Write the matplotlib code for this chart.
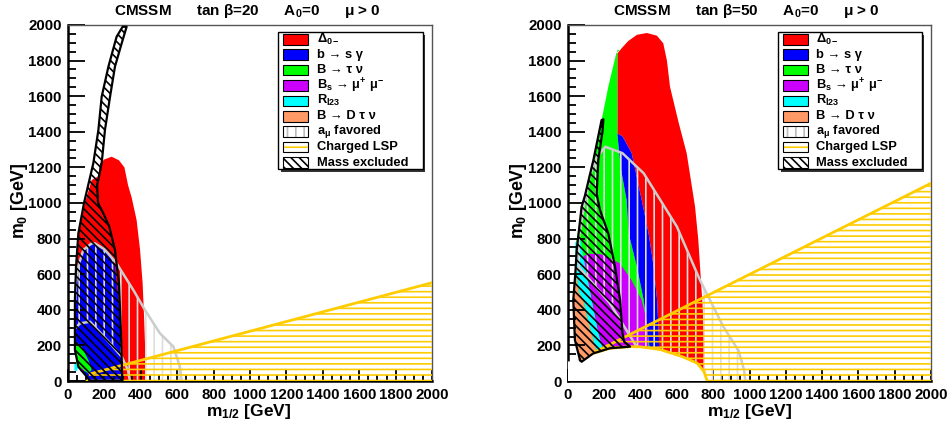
import matplotlib
matplotlib.use("Agg")
import matplotlib.pyplot as plt
from matplotlib.patches import Polygon, Rectangle
from matplotlib.ticker import MultipleLocator
import numpy as np

plt.rcParams['font.family'] = ['Liberation Sans', 'DejaVu Sans']
plt.rcParams['font.weight'] = 'bold'
plt.rcParams['mathtext.fontset'] = 'custom'
plt.rcParams['mathtext.rm'] = 'Liberation Sans:bold'
plt.rcParams['mathtext.it'] = 'Liberation Sans:bold:italic'
plt.rcParams['mathtext.bf'] = 'Liberation Sans:bold'
plt.rcParams['mathtext.default'] = 'rm'
plt.rcParams['hatch.linewidth'] = 1.2

# ---- tan(beta) = 20 : excluded regions in (m1/2, m0) [GeV] ----
tb20_delta0 = [(121, 0), (427, 0), (425, 150), (418, 361), (410, 550), (396, 736), (377, 904),
               (350, 1030), (330, 1100), (310, 1200), (280, 1240), (240, 1260), (200, 1245),
               (176, 1223), (167, 1150), (130, 1129), (93, 1000), (57, 830), (44, 642),
               (38, 455), (38, 174), (57, 80), (103, 24)]
tb20_bsgamma = [(38, 250), (38, 455), (44, 580), (60, 680), (84, 736), (130, 773), (160, 770),
                (200, 745), (240, 700), (258, 642), (277, 455), (290, 268), (295, 174),
                (300, 0), (121, 0), (103, 24), (57, 80), (38, 174)]
tb20_btaunu = [(44, 221), (75, 193), (112, 118), (130, 62), (112, 43), (66, 71), (44, 100)]
tb20_bsmumu = [(68, 55), (85, 47), (88, 62), (75, 71)]
tb20_rl23 = [(35, 60), (50, 55), (55, 80), (45, 105), (35, 100)]
tb20_amu_outer = [(625, 0), (615, 80), (579, 193), (505, 268), (423, 399), (359, 511),
                  (267, 661), (200, 740), (148, 773), (130, 773), (84, 736), (55, 640),
                  (44, 550), (40, 450)]
tb20_amu_inner = [(40, 298), (66, 324), (121, 333), (231, 212), (295, 137), (330, 60), (340, 0)]
tb20_lsp_edge = [(121, 40), (2000, 552)]
tb20_mass = [(121, 0), (300, 0), (298, 5), (291, 268), (280, 549), (258, 736), (227, 867),
             (194, 942), (165, 1000), (160, 1100), (185, 1223), (203, 1410), (231, 1597),
             (258, 1766), (290, 1880), (322, 1990), (300, 1990), (267, 1934), (222, 1766),
             (185, 1597), (167, 1410), (139, 1223), (88, 1000), (57, 830), (44, 642),
             (38, 455), (38, 174), (57, 80), (103, 24)]

# ---- tan(beta) = 50 ----
tb50_delta0 = [(272, 1390), (272, 1840), (296, 1870), (332, 1910), (380, 1945), (435, 1955),
               (490, 1940), (525, 1897), (545, 1800), (562, 1653), (610, 1450), (654, 1279),
               (700, 979), (718, 792), (742, 417), (755, 80), (757, 0), (500, 0), (500, 268),
               (491, 455), (472, 642), (444, 830), (406, 1017), (351, 1280), (300, 1375)]
tb50_bsgamma = [(272, 1390), (300, 1375), (351, 1280), (406, 1017), (444, 830), (472, 642),
                (491, 455), (500, 268), (505, 150), (454, 150), (417, 455), (380, 640),
                (334, 830), (323, 1017), (290, 1200)]
tb50_btaunu = [(40, 650), (42, 760), (60, 870), (93, 1017), (140, 1242), (185, 1466),
               (222, 1653), (266, 1841), (285, 1860), (272, 1860), (272, 1390), (290, 1200),
               (323, 1017), (334, 830), (380, 640), (417, 455), (454, 150), (300, 150),
               (100, 100), (35, 300)]
tb50_bsmumu = [(84, 700), (110, 715), (178, 713), (230, 690), (286, 661), (350, 567),
               (406, 455), (433, 343), (442, 230), (442, 150), (195, 150), (167, 268),
               (130, 455), (110, 560)]
tb50_rl23 = [(40, 780), (70, 790), (84, 700), (110, 560), (130, 455), (167, 268), (195, 170),
             (160, 160), (150, 190), (130, 268), (110, 340), (84, 455), (60, 500), (45, 600)]
tb50_bdtaunu = [(45, 600), (60, 500), (84, 455), (110, 340), (130, 268), (150, 190),
                (160, 160), (66, 110), (35, 250), (28, 450), (35, 560)]
tb50_amu_outer = [(977, 0), (970, 62), (940, 170), (856, 305), (727, 567), (600, 867),
                  (417, 1167), (300, 1280), (206, 1316), (160, 1260), (120, 1150), (90, 1000),
                  (60, 800), (45, 650)]
tb50_amu_inner = [(45, 620), (60, 640), (105, 586), (231, 436), (378, 193), (450, 100), (480, 0)]
tb50_lsp_edge = [(139, 158), (2000, 1111)]
tb50_noewsb_edge = [(66, 110), (139, 155), (231, 184), (342, 193), (400, 192), (510, 176),
                    (629, 137), (712, 100), (749, 53), (767, 0)]
tb50_mass = [(66, 118), (38, 230), (29, 455), (40, 600), (48, 736), (75, 979), (93, 1040),
             (140, 1242), (185, 1466), (195, 1470), (190, 1400), (167, 1242), (158, 1050),
             (176, 961), (222, 829), (259, 642), (287, 455), (300, 268), (310, 220),
             (342, 193), (231, 184), (139, 155), (75, 108)]

legend_labels = [r'$\Delta_{0-}$', 'b → s γ', 'B → τ ν', r'B$_s$ → μ$^{+}$ μ$^{-}$',
                 r'R$_{l23}$', 'B → D τ ν', r'a$_{μ}$ favored', 'Charged LSP', 'Mass excluded']

RED, BLUE, GREEN, PURPLE, CYAN, ORANGE = '#ff0000', '#0000ff', '#00ff00', '#cc00ff', '#00ffff', '#ff9966'
GOLD, AMU_GREY = '#ffcc00', '#cccccc'


def fill(ax, pts, color, z):
    ax.add_patch(Polygon(np.array(pts, float), closed=True, facecolor=color,
                         edgecolor='none', lw=0, zorder=z))


def hatch(ax, pts, color, pattern, z):
    ax.add_patch(Polygon(np.array(pts, float), closed=True, facecolor='none',
                         edgecolor=color, lw=0, hatch=pattern, zorder=z))


def line(ax, pts, color, lw, z, closed=False):
    xy = np.array(pts, float)
    if closed:
        xy = np.vstack([xy, xy[:1]])
    ax.plot(xy[:, 0], xy[:, 1], color=color, lw=lw, zorder=z, solid_joinstyle='round')


def frame(ax):
    ax.set_xlim(0, 2000)
    ax.set_ylim(0, 2000)
    ax.xaxis.set_major_locator(MultipleLocator(200))
    ax.yaxis.set_major_locator(MultipleLocator(200))
    ax.xaxis.set_minor_locator(MultipleLocator(50))
    ax.yaxis.set_minor_locator(MultipleLocator(50))
    ax.tick_params(axis='both', which='both', direction='in', top=False, right=False,
                   labelsize=10.8, width=1.3)
    ax.tick_params(axis='y', which='major', length=12, pad=4.5)
    ax.tick_params(axis='y', which='minor', length=6)
    ax.tick_params(axis='x', which='major', length=9, pad=5)
    ax.tick_params(axis='x', which='minor', length=4.5)
    for s in ['left', 'bottom']:
        ax.spines[s].set_linewidth(1.8)
    for s in ['top', 'right']:
        ax.spines[s].set_linewidth(1.0)
        ax.spines[s].set_color('#555555')
    for lab in ax.get_xticklabels() + ax.get_yticklabels():
        lab.set_fontweight('bold')


def legend(ax):
    x0, x1, ytop, ybot = 0.578, 0.974, 0.9795, 0.595
    ax.add_patch(Rectangle((x0 + 0.008, ybot - 0.0085), x1 - x0, ytop - ybot,
                           transform=ax.transAxes, facecolor='#333333', lw=0, zorder=20))
    ax.add_patch(Rectangle((x0, ybot), x1 - x0, ytop - ybot, transform=ax.transAxes,
                           facecolor='white', edgecolor='black', lw=1.0, zorder=21))
    swatch = [RED, BLUE, GREEN, PURPLE, CYAN, ORANGE, None, None, None]
    hatches = [None] * 6 + [('||', '#bbbbbb'), ('---', GOLD), ('\\\\\\\\', 'black')]
    w, h = 0.0687, 0.030
    for i, lab in enumerate(legend_labels):
        yc = 0.960 - i * 0.0433
        if swatch[i] is not None:
            ax.add_patch(Rectangle((0.5915, yc - h / 2), w, h, transform=ax.transAxes,
                                   facecolor=swatch[i], edgecolor='black', lw=0.8, zorder=22))
        else:
            pat, col = hatches[i]
            ax.add_patch(Rectangle((0.5915, yc - h / 2), w, h, transform=ax.transAxes,
                                   facecolor='white', edgecolor=col, lw=0, hatch=pat, zorder=22))
            ax.add_patch(Rectangle((0.5915, yc - h / 2), w, h, transform=ax.transAxes,
                                   facecolor='none', edgecolor='black', lw=0.8, zorder=23))
        ax.text(0.683, yc, lab, transform=ax.transAxes, fontsize=9.3, fontweight='bold',
                va='center', ha='left', zorder=24)


fig = plt.figure(figsize=(9.47, 4.23), dpi=100)
W, H = 947.0, 423.0
axL = fig.add_axes([68 / W, 1 - 381 / H, 364 / W, 356 / H])
axR = fig.add_axes([568 / W, 1 - 381 / H, 363 / W, 356 / H])

# tan(beta) = 20 panel
ax = axL
fill(ax, tb20_delta0, RED, 1)
fill(ax, tb20_bsgamma, BLUE, 1.1)
fill(ax, tb20_btaunu, GREEN, 1.2)
fill(ax, tb20_rl23, CYAN, 1.3)
fill(ax, tb20_bsmumu, PURPLE, 1.3)
hatch(ax, tb20_amu_outer + tb20_amu_inner, '#dddddd', '||', 2)
line(ax, tb20_amu_outer, AMU_GREY, 1.8, 2.1)
line(ax, tb20_amu_inner, AMU_GREY, 1.8, 2.1)
hatch(ax, tb20_lsp_edge + [(2000, 0), (95, 0)], GOLD, '---', 3)
line(ax, tb20_lsp_edge, GOLD, 2.0, 4)
hatch(ax, tb20_mass, 'black', '\\\\\\\\', 5)
line(ax, tb20_mass, 'black', 1.6, 5.1, closed=True)
frame(ax)
legend(ax)

# tan(beta) = 50 panel
ax = axR
fill(ax, tb50_delta0, RED, 1)
fill(ax, tb50_btaunu, GREEN, 1.1)
fill(ax, tb50_bsgamma, BLUE, 1.2)
fill(ax, tb50_bsmumu, PURPLE, 1.3)
fill(ax, tb50_rl23, CYAN, 1.4)
fill(ax, tb50_bdtaunu, ORANGE, 1.5)
hatch(ax, tb50_amu_outer + tb50_amu_inner, '#dddddd', '||', 2)
line(ax, tb50_amu_outer, AMU_GREY, 1.8, 2.1)
line(ax, tb50_amu_inner, AMU_GREY, 1.8, 2.1)
hatch(ax, tb50_lsp_edge + [(2000, 0), (139, 0)], GOLD, '---', 3)
fill(ax, [(0, 0), (0, 110)] + tb50_noewsb_edge, 'white', 3.5)
line(ax, tb50_lsp_edge, GOLD, 2.0, 4)
line(ax, tb50_noewsb_edge[1:], GOLD, 2.0, 4)
hatch(ax, tb50_mass, 'black', '\\\\\\\\', 5)
line(ax, tb50_mass, 'black', 1.6, 5.1, closed=True)
frame(ax)
legend(ax)

# titles and axis labels
for xc, tb in [(247, 20), (746, 50)]:
    fig.text(xc / W, 1 - 15.5 / H,
             'CMSSM      tan β=%d      A$_0$=0      μ > 0' % tb,
             ha='center', va='baseline', fontsize=11, fontweight='bold')
for xc in [249, 749.5]:
    fig.text(xc / W, 1 - 416 / H, r'm$_{1/2}$ [GeV]', ha='center', va='baseline',
             fontsize=12.5, fontweight='bold')
for xc in [20, 518.5]:
    fig.text(xc / W, 1 - 201 / H, r'm$_0$ [GeV]', ha='center', va='center',
             rotation=90, fontsize=12.8, fontweight='bold')

fig.savefig('out.png', dpi=100)
